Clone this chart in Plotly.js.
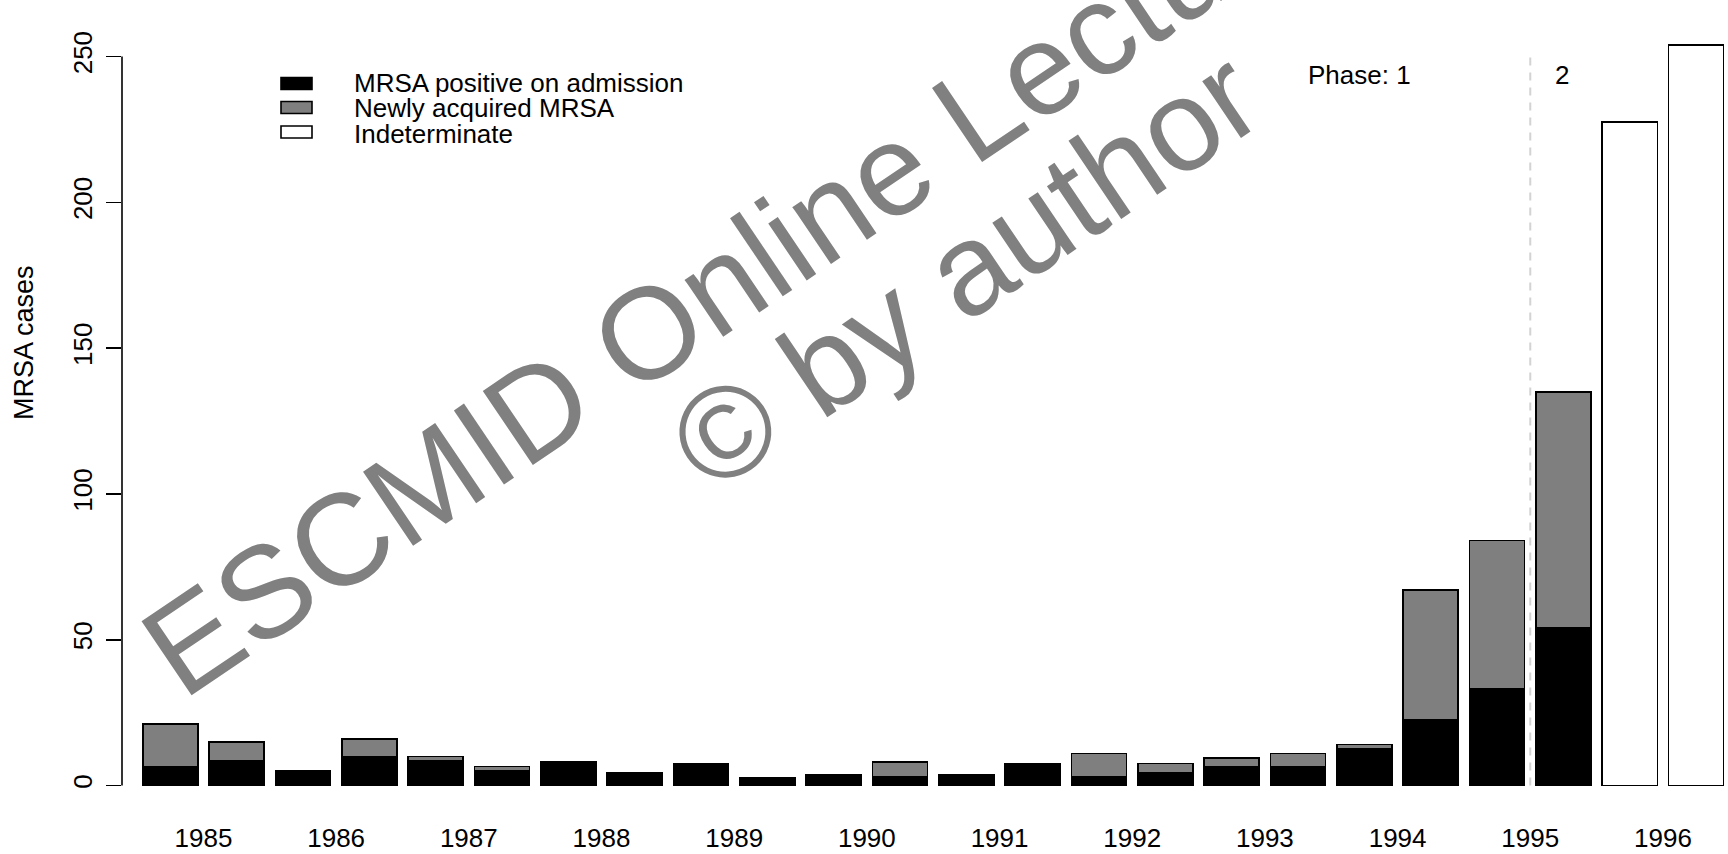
<!DOCTYPE html>
<html>
<head>
<meta charset="utf-8">
<script src="https://cdn.plot.ly/plotly-3.0.1.min.js"></script>
<style>
  html, body { margin: 0; padding: 0; background: #ffffff; }
  #chart { width: 1728px; height: 854px; }
</style>
</head>
<body>
<div id="chart"></div>
<script>
// ---- data ----
// one bar per half-year, 1985 H1 ... 1996 H2
var halfYears = ["1985 H1","1985 H2","1986 H1","1986 H2","1987 H1","1987 H2",
                 "1988 H1","1988 H2","1989 H1","1989 H2","1990 H1","1990 H2",
                 "1991 H1","1991 H2","1992 H1","1992 H2","1993 H1","1993 H2",
                 "1994 H1","1994 H2","1995 H1","1995 H2","1996 H1","1996 H2"];
var positiveOnAdmission = [6.5, 8.5, 5, 10, 8.5, 5, 8, 4.5, 7.5, 2.5, 3.5, 3,
                           3, 7.5, 3, 4.5, 6.5, 6.5, 12.5, 22.5, 33, 54, null, null];
var newlyAcquired       = [14.5, 6.5, null, 6, 1.5, 1.5, null, null, null, null, null, 5,
                           0.5, null, 8, 3, 3, 4.5, 1.5, 44.5, 51, 81, null, null];
var indeterminate       = [null, null, null, null, null, null, null, null, null, null, null, null,
                           null, null, null, null, null, null, null, null, null, null, 227.5, 254];
var yearLabels = ["1985","1986","1987","1988","1989","1990","1991","1992","1993","1994","1995","1996"];
var yTicks = [0, 50, 100, 150, 200, 250];
var seriesNames = ["MRSA positive on admission", "Newly acquired MRSA", "Indeterminate"];
var phaseBoundary = 20.5;   // between 1995 H1 and 1995 H2

// ---- layout geometry ----
var W = 1728, H = 854;
var ML = 122, MR = 0, MT = 20, MB = 64;
var PW = W - ML - MR, PH = H - MT - MB;
function px(x) { return (x - ML) / PW; }
function py(y) { return (H - MB - y) / PH; }

var xIdx = halfYears.map(function (_, i) { return i; });
var yearPos = yearLabels.map(function (_, k) { return 2 * k + 0.5; });

var FONT = '"Liberation Sans", Arial, Helvetica, sans-serif';
var GRAY = '#7f7f7f';
var barW = 0.83;

function barTrace(name, vals, color) {
  return {
    type: 'bar', name: name, x: xIdx, y: vals, width: barW,
    marker: { color: color, line: { color: '#000000', width: 1.6 } },
    showlegend: false, hoverinfo: 'name+y'
  };
}

var data = [
  barTrace(seriesNames[0], positiveOnAdmission, '#000000'),
  barTrace(seriesNames[1], newlyAcquired, GRAY),
  barTrace(seriesNames[2], indeterminate, '#ffffff')
];

var legendBoxY = [83.5, 107.5, 132];
var legendTextY = [83, 108.5, 134];
var legendFill = ['#000000', GRAY, '#ffffff'];

var shapes = [
  // y axis line (R style, only over the tick range)
  { type: 'line', xref: 'paper', yref: 'y', x0: 0, x1: 0, y0: yTicks[0], y1: yTicks[yTicks.length - 1],
    line: { color: '#000000', width: 1.6 } },
  // phase boundary
  { type: 'line', xref: 'x', yref: 'y', x0: phaseBoundary, x1: phaseBoundary, y0: 0, y1: 250.5,
    line: { color: '#d3d3d3', width: 2, dash: '8px,7px' }, layer: 'below' }
];
legendBoxY.forEach(function (cy, i) {
  shapes.push({ type: 'rect', xref: 'paper', yref: 'paper',
    x0: px(281), x1: px(312), y0: py(cy + 6), y1: py(cy - 6),
    fillcolor: legendFill[i], line: { color: '#000000', width: 1.6 } });
});

var annotations = [];
seriesNames.forEach(function (nm, i) {
  annotations.push({ text: nm, xref: 'paper', yref: 'paper', x: px(352), y: py(legendTextY[i]),
    xanchor: 'left', yanchor: 'middle', showarrow: false,
    font: { family: FONT, size: 26, color: '#000000' } });
});
annotations.push({ text: 'Phase: 1', xref: 'paper', yref: 'paper', x: px(1306), y: py(75),
  xanchor: 'left', yanchor: 'middle', showarrow: false,
  font: { family: FONT, size: 26, color: '#000000' } });
annotations.push({ text: '2', xref: 'paper', yref: 'paper', x: px(1562), y: py(75),
  xanchor: 'center', yanchor: 'middle', showarrow: false,
  font: { family: FONT, size: 26, color: '#000000' } });
// y axis title
annotations.push({ text: 'MRSA cases', xref: 'paper', yref: 'paper', x: px(24), y: py(343),
  xanchor: 'center', yanchor: 'middle', showarrow: false, textangle: -90,
  font: { family: FONT, size: 27, color: '#000000' } });
// watermark
annotations.push({ text: 'ESCMID Online Lecture Library', xref: 'paper', yref: 'paper',
  x: px(912), y: py(155), xanchor: 'center', yanchor: 'middle', showarrow: false, textangle: -34,
  font: { family: FONT, size: 130, color: '#808080' } });
annotations.push({ text: '© by author', xref: 'paper', yref: 'paper',
  x: px(965), y: py(270), xanchor: 'center', yanchor: 'middle', showarrow: false, textangle: -34,
  font: { family: FONT, size: 130, color: '#808080' } });

var layout = {
  width: W, height: H,
  margin: { l: ML, r: MR, t: MT, b: MB, pad: 0 },
  paper_bgcolor: '#ffffff', plot_bgcolor: '#ffffff',
  barmode: 'stack', bargap: 0,
  showlegend: false,
  font: { family: FONT, size: 26, color: '#000000' },
  xaxis: {
    range: [-0.728, -0.728 + PW / 66.34],
    tickmode: 'array', tickvals: yearPos, ticktext: yearLabels,
    ticks: 'outside', ticklen: 25, tickcolor: 'rgba(0,0,0,0)',
    showline: false, showgrid: false, zeroline: false,
    tickfont: { family: FONT, size: 26, color: '#000000' }
  },
  yaxis: {
    range: [-(790 - 785.5) / 2.916, (785.5 - MT) / 2.916],
    tickmode: 'array', tickvals: yTicks, ticktext: yTicks.map(String),
    ticks: 'outside', ticklen: 15, tickwidth: 1.6, tickcolor: '#000000',
    tickangle: -90, ticklabelstandoff: 4,
    showline: false, showgrid: false, zeroline: false,
    tickfont: { family: FONT, size: 26, color: '#000000' }
  },
  shapes: shapes,
  annotations: annotations
};

Plotly.newPlot('chart', data, layout, { displayModeBar: false, staticPlot: true });
</script>
</body>
</html>
